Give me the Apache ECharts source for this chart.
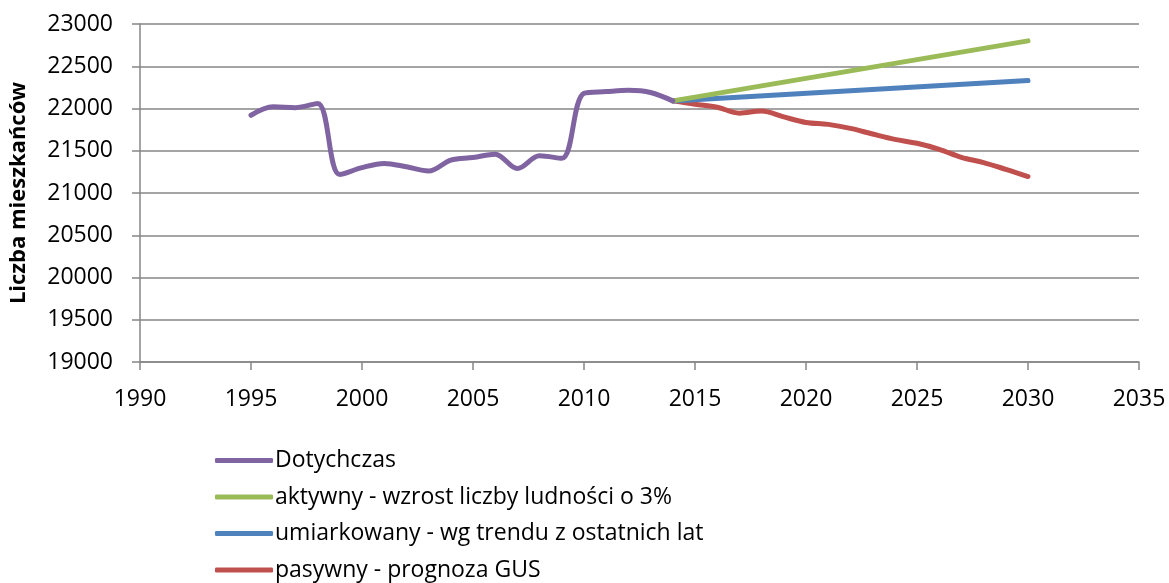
<!DOCTYPE html>
<html>
<head>
<meta charset="utf-8">
<script src="https://cdn.jsdelivr.net/npm/echarts@6/dist/echarts.min.js"></script>
<style>
  html, body { margin: 0; padding: 0; background: #fff; }
  #chartDiv { width: 1169px; height: 583px; }
</style>
</head>
<body>
<div id="chartDiv"></div>
<script>
// dane
var pastYears = [1995, 1996, 1997, 1998, 1999, 2000, 2001, 2002, 2003, 2004,
                 2005, 2006, 2007, 2008, 2009, 2010, 2011, 2012, 2013, 2014];
var pastValues = [21920, 22020, 22010, 22060, 21220, 21300, 21350, 21310, 21260, 21390,
                  21420, 21460, 21290, 21440, 21410, 22180, 22200, 22215, 22190, 22090];

var activeYears = [2014, 2030];
var activeValues = [22090, 22800];

var moderateYears = [2014, 2030];
var moderateValues = [22090, 22330];

var passiveYears = [2014, 2015, 2016, 2017, 2018, 2019, 2020, 2021, 2022,
                    2023, 2024, 2025, 2026, 2027, 2028, 2029, 2030];
var passiveValues = [22090, 22050, 22015, 21945, 21970, 21900, 21835, 21812, 21765,
                     21698, 21635, 21588, 21517, 21422, 21360, 21280, 21195];

var seriesNames = ['Dotychczas', 'aktywny - wzrost liczby ludności o 3%',
                   'umiarkowany - wg trendu z ostatnich lat', 'pasywny - prognoza GUS'];
var seriesColors = ['#8064A2', '#9BBB59', '#4F81BD', '#C0504D'];

var FONT = 'Open Sans';

function toPairs(xs, ys) {
    var list = [];
    for (var i = 0; i < xs.length; i++) {
        list.push([xs[i], ys[i]]);
    }
    return list;
}

function makeSeries(idx, xs, ys) {
    return {
        name: seriesNames[idx],
        type: 'line',
        smooth: 0.35,
        symbol: 'none',
        data: toPairs(xs, ys),
        lineStyle: { color: seriesColors[idx], width: 5, cap: 'round' },
        itemStyle: { color: seriesColors[idx] },
        z: 10 - idx
    };
}

var chart = echarts.init(document.getElementById('chartDiv'));

var option = {
    animation: false,
    backgroundColor: '#fff',
    textStyle: { fontFamily: FONT },
    grid: { left: 137, right: 30, top: 24, bottom: 221 },
    xAxis: {
        type: 'value',
        min: 1990, max: 2035, interval: 5,
        axisLine: { lineStyle: { color: '#868686', width: 1.5 } },
        axisTick: { show: true, length: 8, lineStyle: { color: '#868686', width: 1.5 } },
        axisLabel: {
            color: '#000', fontSize: 23, fontFamily: FONT, margin: 26,
            formatter: function (v) { return String(v); }
        },
        splitLine: { show: false }
    },
    yAxis: {
        type: 'value',
        min: 19000, max: 23000, interval: 500,
        name: 'Liczba mieszkańców',
        nameLocation: 'middle',
        nameGap: 110,
        nameRotate: 90,
        nameTextStyle: { color: '#000', fontSize: 22, fontWeight: 'bold', fontFamily: FONT },
        axisLine: { show: true, lineStyle: { color: '#868686', width: 1.5 } },
        axisTick: { show: true, length: 8, lineStyle: { color: '#868686', width: 1.5 } },
        axisLabel: {
            color: '#000', fontSize: 23, fontFamily: FONT, margin: 27,
            formatter: function (v) { return String(v); }
        },
        splitLine: { show: true, lineStyle: { color: '#868686', width: 1.5 } }
    },
    legend: {
        orient: 'vertical',
        left: 215,
        top: 449,
        height: 134,
        padding: 0,
        icon: 'roundRect',
        itemWidth: 58,
        itemHeight: 5,
        itemGap: 13.5,
        textStyle: { color: '#000', fontSize: 23, fontFamily: FONT, padding: [0, 0, 0, -3] },
        data: seriesNames
    },
    series: [
        makeSeries(0, pastYears, pastValues),
        makeSeries(1, activeYears, activeValues),
        makeSeries(2, moderateYears, moderateValues),
        makeSeries(3, passiveYears, passiveValues)
    ]
};

chart.setOption(option);
</script>
</body>
</html>
